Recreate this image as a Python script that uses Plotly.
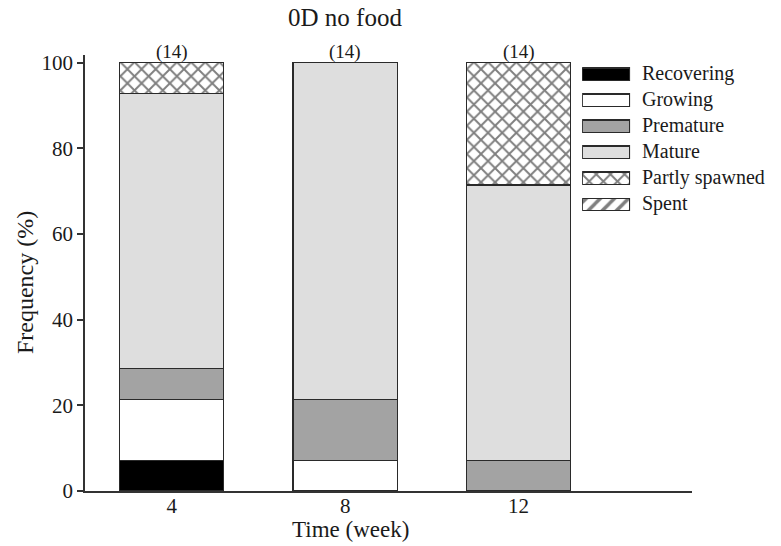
import plotly.graph_objects as go

# ---- data ----
weeks = ["4", "8", "12"]
n_fish = ["(14)", "(14)", "(14)"]
stages = ["Recovering", "Growing", "Premature", "Mature", "Partly spawned", "Spent"]
recovering = [7.14, 0, 0]
growing = [14.29, 7.14, 0]
premature = [7.14, 14.29, 7.14]
mature = [64.29, 78.57, 64.29]
partly_spawned = [7.14, 0, 28.57]
spent = [0, 0, 0]
y_ticks = [0, 20, 40, 60, 80, 100]

series = [recovering, growing, premature, mature, partly_spawned, spent]
fills = ["#000000", "#ffffff", "#a3a3a3", "#dedede", "#ffffff", "#ffffff"]
patterns = ["", "", "", "", "x", "/"]

FONT = "Liberation Serif"
EDGE = "#2a2a2a"


def pat(shape):
    return dict(shape=shape, fgcolor="#000000", bgcolor="#ffffff", size=10, solidity=0.35)


fig = go.Figure()
for name, vals, col, p in zip(stages, series, fills, patterns):
    fig.add_trace(go.Bar(
        x=weeks, y=[v if v > 0 else None for v in vals], name=name,
        marker=dict(color=col, line=dict(color=EDGE, width=1.3), pattern=pat(p)),
        width=0.6, showlegend=False, xaxis="x", yaxis="y",
    ))

# custom legend swatches (wide rectangles) drawn on a hidden helper axis
for name, col, p in zip(stages, fills, patterns):
    fig.add_trace(go.Bar(
        x=[1], y=[name], orientation="h",
        marker=dict(color=col, line=dict(color=EDGE, width=1.3), pattern=pat(p)),
        width=0.48, showlegend=False, xaxis="x2", yaxis="y2", hoverinfo="skip",
    ))

annotations = []
for i, t in enumerate(n_fish):
    annotations.append(dict(x=i, y=100, xref="x", yref="y", text=t, showarrow=False,
                            yanchor="bottom", yshift=-2, font=dict(size=19)))
for s in stages:
    annotations.append(dict(x=0.914, y=s, xref="paper", yref="y2", text=s, showarrow=False,
                            xanchor="left", yanchor="middle", yshift=1, font=dict(size=20)))
annotations.append(dict(x=1, y=1.085, xref="x", yref="paper", text="0D no food",
                        showarrow=False, xanchor="center", yanchor="middle",
                        font=dict(size=25)))
annotations.append(dict(x=0.4366, y=-0.088, xref="paper", yref="paper", text="Time (week)",
                        showarrow=False, xanchor="center", yanchor="middle",
                        font=dict(size=23)))
annotations.append(dict(x=-0.0988, y=0.477, xref="paper", yref="paper", text="Frequency (%)",
                        textangle=-90, showarrow=False, xanchor="center", yanchor="middle",
                        font=dict(size=24)))

fig.update_layout(
    width=781, height=546,
    margin=dict(l=85, r=89, t=55, b=55),
    paper_bgcolor="white", plot_bgcolor="white",
    barmode="stack",
    font=dict(family=FONT, color="#1a1a1a", size=21),
    xaxis=dict(type="category", range=[-0.5, 3.0], showline=True, linecolor="#333333",
               linewidth=1.5, ticks="", showgrid=False, zeroline=False,
               tickfont=dict(size=21), ticklabelstandoff=-5),
    yaxis=dict(range=[0, 101.8], tickvals=y_ticks, showline=True, linecolor="#333333",
               linewidth=1.5, ticks="outside", ticklen=6, tickwidth=1.5, tickcolor="#333333",
               showgrid=False, zeroline=False, tickfont=dict(size=21)),
    xaxis2=dict(domain=[0.819, 0.898], range=[0, 1], visible=False, anchor="y2",
                fixedrange=True),
    yaxis2=dict(domain=[0.624, 0.986], type="category", categoryorder="array",
                categoryarray=stages, autorange="reversed", visible=False, anchor="x2"),
    annotations=annotations,
    showlegend=False,
)

fig.write_html("out.html")
